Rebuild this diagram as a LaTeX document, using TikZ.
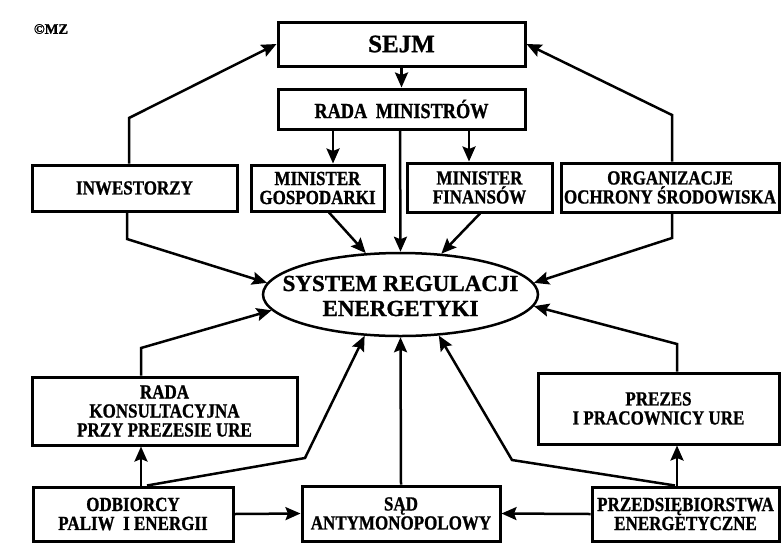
\documentclass[tikz,border=0pt]{standalone}
\usepackage{fontspec}
\setmainfont{Liberation Serif}
\newfontfamily\mzcond{Liberation Serif}[FakeStretch=0.85,FakeBold=1]
\newfontfamily\mzheavy{Liberation Serif}[FakeBold=1]
\usetikzlibrary{arrows.meta,shapes.geometric}
\newcommand\mzboxfont{\mzcond\bfseries\fontsize{20}{19}\selectfont}
\newcommand\mzsejmfont{\mzheavy\bfseries\fontsize{25}{27}\selectfont}
\newcommand\mzsysfont{\mzheavy\bfseries\fontsize{23}{25}\selectfont}
\begin{document}
\begin{tikzpicture}[x=1pt,y=-1pt,
  box/.style={draw,line width=3pt,inner sep=0pt,align=center,font=\mzboxfont},
  sysell/.style={draw,ellipse,line width=2.5pt,inner sep=0pt,minimum width=275pt,minimum height=83pt},
  systext/.style={align=center,font=\mzsysfont,inner sep=0pt},
  conn/.style={line width=2.5pt,-{Stealth[length=15pt,width=13pt,inset=2.5pt]}}
]
\fill[white] (0,0) rectangle (781,544);
\useasboundingbox (0,0) rectangle (781,544);

% copyright mark
\node[font=\mzheavy\bfseries\fontsize{14.5}{16}\selectfont,inner sep=0pt] (mz) at (51,29) {©MZ};

% top row
\node[box,minimum width=247pt,minimum height=44pt,font=\mzsejmfont] (sejm) at (401.5,44) {SEJM};
\node[box,minimum width=247pt,minimum height=40pt,font=\mzcond\bfseries\fontsize{21.5}{21}\selectfont] (rada) at (401.5,109) {RADA\hspace{0.4em}MINISTRÓW};

% second row
\node[box,minimum width=205pt,minimum height=46pt] (inw) at (134.5,188) {INWESTORZY};
\node[box,minimum width=133pt,minimum height=46pt] (mg) at (317.5,188) {MINISTER\\GOSPODARKI};
\node[box,minimum width=145pt,minimum height=49pt] (mf) at (479.5,187.5) {MINISTER\\FINANSÓW};
\node[box,minimum width=218pt,minimum height=49pt] (org) at (670,187.5) {ORGANIZACJE\\OCHRONY ŚRODOWISKA};

% central ellipse
\node[sysell] (sys) at (400.5,294.5) {};
\node[systext] (syst) at (400.5,296) {SYSTEM REGULACJI\\ENERGETYKI};

% lower rows
\node[box,minimum width=265pt,minimum height=68pt] (rk) at (164.5,411) {RADA\\KONSULTACYJNA\\PRZY PREZESIE URE};
\node[box,minimum width=241pt,minimum height=71pt] (prezes) at (658.5,408.5) {PREZES\\I PRACOWNICY URE};
\node[box,minimum width=200pt,minimum height=54pt] (odb) at (133,514) {ODBIORCY\\PALIW\ \ I ENERGII};
\node[box,minimum width=198pt,minimum height=55pt] (sad) at (401,513.5) {SĄD\\ANTYMONOPOLOWY};
\node[box,minimum width=187pt,minimum height=54pt] (prz) at (685.5,514) {PRZEDSIĘBIORSTWA\\ENERGETYCZNE};

% government branch
\draw[conn] (sejm) -- (rada);
\draw[conn] (rada.south -| 333,0) -- (mg.north -| 333,0);
\draw[conn] (rada.south -| 469,0) -- (mf.north -| 469,0);
\draw[conn] (rada.south -| 400,0) -- (sys.north);

% feedback to parliament
\draw[conn] (inw.north -| 129,0) -- (129,118) -- (sejm.west);
\draw[conn] (org.north -| 672,0) -- (672,115) -- (sejm.east);

% inputs to the regulation system
\draw[conn] (inw.south -| 127,0) -- (127,239) -- (sys.175);
\draw[conn] (mg.south -| 329,0) -- (sys.130);
\draw[conn] (mf.south -| 480,0) -- (sys.45);
\draw[conn] (org.south -| 672,0) -- (672,238) -- (sys.5);
\draw[conn] (rk.north -| 141,0) -- (141,348) -- (sys.187);
\draw[conn] (prezes.north -| 677,0) -- (677,344) -- (sys.355);
\draw[conn] (odb.north -| 147,0) -- (305,458) -- (sys.229);
\draw[conn] (sad.north) -- (sys.south);
\draw[conn] (prz.north -| 675,0) -- (512,460) -- (sys.313);

% bottom links
\draw[conn] (odb.north -| 141,0) -- (rk.south -| 141,0);
\draw[conn] (prz.north -| 677,0) -- (prezes.south -| 677,0);
\draw[conn] (odb.east) -- (sad.west);
\draw[conn] (prz.west) -- (sad.east);
\end{tikzpicture}
\end{document}
